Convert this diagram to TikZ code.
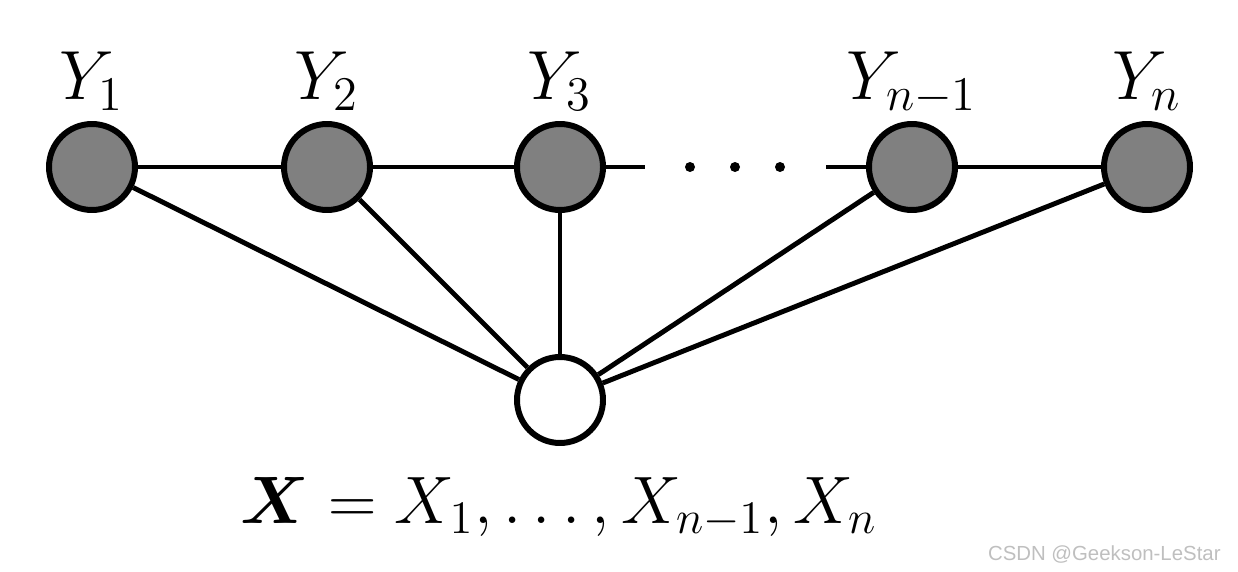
\documentclass[tikz,border=0pt]{standalone}
\usepackage{amsmath,amssymb,bm}
\usepackage[no-math]{fontspec}
\usepackage{tikz}
\usetikzlibrary{positioning}
\newfontfamily\marcafont{Liberation Sans}
\tikzset{
  saida/.style={circle, draw, line width=1.7pt, fill=black!50, minimum size=0.86cm, inner sep=0pt},
  entrada/.style={circle, draw, line width=1.7pt, fill=white, minimum size=0.86cm, inner sep=0pt},
  rotulo/.style={anchor=base, scale=1.146, font=\fontsize{17.28}{20}\selectfont},
  aresta/.style={line width=1.4pt},
}

\begin{document}
\begin{tikzpicture}
  \useasboundingbox (0,0) rectangle (12.38,5.71);
  \node[saida] (y1) at (0.92,4.04) {};
  \node[saida] (y2) at (3.27,4.04) {};
  \node[saida] (y3) at (5.60,4.04) {};
  \node[saida] (yn1) at (9.12,4.04) {};
  \node[saida] (yn) at (11.47,4.04) {};
  \node[entrada] (x) at (5.60,1.71) {};
  \coordinate (c1) at (6.45,4.04);
  \coordinate (c2) at (8.26,4.04);
  \node[rotulo] (ly1) at (0.92,4.71) {$Y_1$};
  \node[rotulo] (ly2) at (3.27,4.71) {$Y_2$};
  \node[rotulo] (ly3) at (5.60,4.71) {$Y_3$};
  \node[rotulo] (lyn1) at (9.12,4.71) {$Y_{n-1}$};
  \node[rotulo] (lyn) at (11.47,4.71) {$Y_n$};
  \node[anchor=base, scale=1.105, font=\fontsize{17.28}{20}\selectfont] (lx) at (5.59,0.48) {$\bm{X} = X_1, \ldots, X_{n-1}, X_n$};
  \node[anchor=base east, text=black!25, font=\marcafont\fontsize{5.8}{7}\selectfont] (marca) at (12.33,0.11) {CSDN @Geekson-LeStar};
  % cadeia
  \draw[aresta] (y1) -- (y2) -- (y3) -- (c1);
  \draw[aresta] (c2) -- (yn1) -- (yn);
  \foreach \px in {6.90,7.35,7.80}
    \fill (\px,4.04) circle (0.05);
  % ligacoes com X
  \foreach \n in {y1,y2,y3,yn1,yn}
    \draw[aresta] (\n) -- (x);
\end{tikzpicture}
\end{document}
